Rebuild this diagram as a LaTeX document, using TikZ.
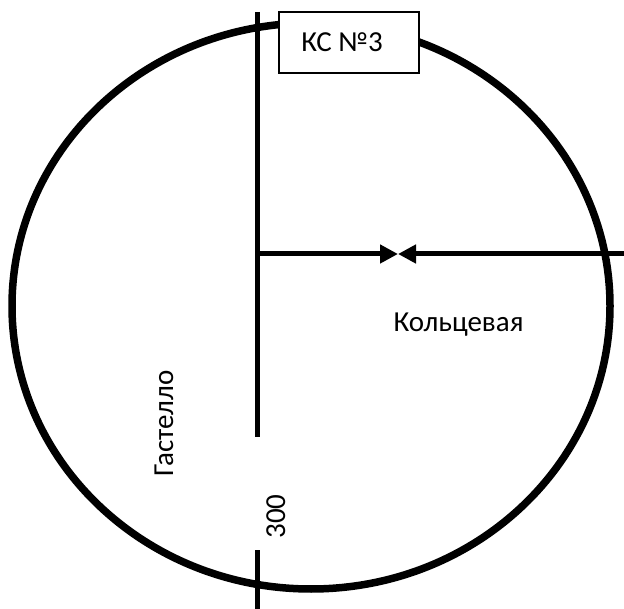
\documentclass[tikz,border=0pt]{standalone}
\usepackage{fontspec}
\setmainfont{Carlito}
\usetikzlibrary{arrows.meta}
\tikzset{
  road/.style={line width=5pt},
  pipe/.style={road, -{Triangle[length=18pt,width=18pt]}},
  ring/.style={line width=7.5pt},
  stationbox/.style={draw, fill=white, line width=1.2pt, minimum width=140pt, minimum height=61pt, inner sep=0pt},
  lbl/.style={font=\fontsize{29}{34}\selectfont, inner sep=0pt}
}
\begin{document}
\begin{tikzpicture}[x=1pt, y=-1pt]
    \useasboundingbox (0,0) rectangle (624,609);
    % Ring road
    \draw[ring] (311,306) ellipse [x radius=299, y radius=283];
    % Street, two parts
    \coordinate (streettop) at (257.5,12);
    \coordinate (streetend) at (257.5,437);
    \coordinate (stubtop) at (257.5,550);
    \coordinate (stubend) at (257.5,609);
    \draw[road] (streettop) -- (streetend);
    \draw[road] (stubtop) -- (stubend);
    % Branch with meeting arrows
    \coordinate (branch) at (257.5,254);
    \coordinate (meet) at (398,254);
    \coordinate (edge) at (624,254);
    \draw[pipe] (branch) -- (meet);
    \draw[pipe] (edge) -- (meet);
    % Station
    \node[stationbox, lbl] (ks) at (349,42.5) {КС №3\hspace*{14pt}};
    % Labels
    \node[lbl, anchor=base] (ring) at (458.5,331.7) {Кольцевая};
    \node[lbl, anchor=base, rotate=90] (gastello) at (173,423.5) {Гастелло};
    \node[lbl, anchor=base, rotate=90] (dist) at (285,516.5) {300};
\end{tikzpicture}
\end{document}
